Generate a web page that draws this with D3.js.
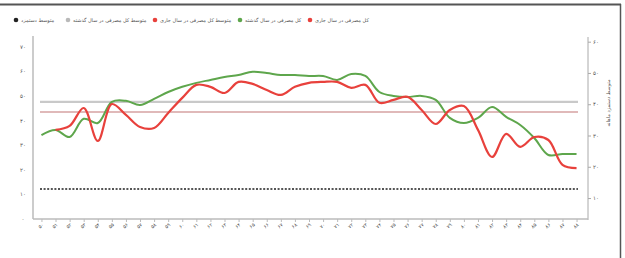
<!DOCTYPE html>
<html>
<head>
<meta charset="utf-8">
<script src="https://cdn.jsdelivr.net/npm/d3@7"></script>
<style>
  body { margin: 0; background: #fff; }
  text { font-family: "DejaVu Sans", sans-serif; fill: #555; }
</style>
</head>
<body>
<div id="chart"></div>
<script>
// years 1350..1388 (Persian digits)
const years = ["۵۰","۵۱","۵۲","۵۳","۵۴","۵۵","۵۶","۵۷","۵۸","۵۹","۶۰","۶۱","۶۲","۶۳","۶۴","۶۵","۶۶","۶۷","۶۸","۶۹",
  "۷۰","۷۱","۷۲","۷۳","۷۴","۷۵","۷۶","۷۷","۷۸","۷۹","۸۰","۸۱","۸۲","۸۳","۸۴","۸۵","۸۶","۸۷","۸۸"];

// total consumption, current year (red)
const currentYear = [null,36.2,37.8,45.1,31.7,46.7,42.3,37.4,37.0,43.1,49.2,54.5,53.7,51.2,55.7,54.9,52.4,50.4,53.7,55.3,
  55.7,55.7,53.3,54.5,47.2,48.4,49.6,44.3,38.6,44.3,45.9,36.2,25.2,34.6,29.3,33.3,32.1,22.0,20.7];

// total consumption, previous year (green)
const previousYear = [34.1,36.2,33.3,40.7,39.0,47.6,48.0,46.3,48.8,51.6,53.7,55.3,56.5,57.7,58.5,59.8,59.3,58.5,58.5,58.1,
  58.1,56.5,58.9,58.1,51.6,50.0,49.6,50.0,48.4,41.1,39.0,41.1,45.5,41.5,38.2,32.9,26.0,26.4,26.4];

const avgPrevious = 47.6;   // gray line
const avgCurrent = 43.5;    // pale red line
const avgWage = 12.2;       // dotted black line

const leftTicks = [0,10,20,30,40,50,60,70];
const leftTickLabels = ["۰","۱۰","۲۰","۳۰","۴۰","۵۰","۶۰","۷۰"];
const rightTicks = [10,20,30,40,50,60];
const rightTickLabels = ["۱۰","۲۰","۳۰","۴۰","۵۰","۶۰"];

const legendItems = ["متوسط دستمزد","متوسط کل مصرفی در سال گذشته","متوسط کل مصرفی در سال جاری","کل مصرفی در سال گذشته","کل مصرفی در سال جاری"];
const legendColors = ["#222","#b9b9b9","#e8413c","#5ea64c","#e8413c"];

const W = 625, H = 258;
const svg = d3.select("#chart").append("svg")
  .attr("width", W).attr("height", H);

// frame
svg.append("line").attr("x1", 0).attr("x2", 621).attr("y1", 4.5).attr("y2", 4.5)
  .attr("stroke", "#555").attr("stroke-width", 2);
svg.append("line").attr("x1", 620.5).attr("x2", 620.5).attr("y1", 4).attr("y2", H)
  .attr("stroke", "#555").attr("stroke-width", 1.5);

const x = d3.scalePoint().domain(years).range([33, 585]).padding(0.6);
const y = d3.scaleLinear().domain([0, 70]).range([219, 46.7]);
const yRight = d3.scaleLinear().domain([0, 60]).range([229.3, 41.7]);

// left axis
svg.append("line").attr("x1", 33).attr("x2", 33).attr("y1", 36).attr("y2", 219)
  .attr("stroke", "#bbb").attr("stroke-width", 1.5);
svg.append("g").selectAll("text").data(leftTicks).join("text")
  .attr("x", 23).attr("y", d => y(d) + 2)
  .attr("text-anchor", "middle").attr("font-size", 5.5)
  .text((d, i) => leftTickLabels[i]);

// right axis
const rAxis = svg.append("g").attr("transform", "translate(588,0)")
  .call(d3.axisRight(yRight).tickValues(rightTicks).tickSize(3).tickFormat((d, i) => rightTickLabels[i]));
rAxis.select(".domain").attr("d", "M0,37V220").attr("stroke", "#aaa");
rAxis.selectAll(".tick line").attr("stroke", "#aaa");
rAxis.selectAll(".tick text").attr("font-size", 5.5).attr("fill", "#666").attr("x", 5);
svg.append("text")
  .attr("transform", "translate(610,103) rotate(-90)")
  .attr("text-anchor", "middle").attr("font-size", 5)
  .text("متوسط دستمزد ماهانه");

// x axis
const xAxis = svg.append("g").attr("transform", "translate(0,219)")
  .call(d3.axisBottom(x).tickSize(3));
xAxis.select(".domain").attr("d", "M33,0H588").attr("stroke", "#bbb").attr("stroke-width", 1.5);
xAxis.selectAll(".tick line").attr("stroke", "#bbb");
xAxis.selectAll(".tick text")
  .attr("font-size", 5).attr("fill", "#777")
  .attr("y", 0).attr("dy", 0)
  .attr("transform", "translate(0,8) rotate(-40)")
  .attr("text-anchor", "middle");

// reference lines
const x0 = 40, x1 = 578;
svg.append("line").attr("x1", x0).attr("x2", x1).attr("y1", y(avgPrevious)).attr("y2", y(avgPrevious))
  .attr("stroke", "#c9c9c9").attr("stroke-width", 2.2);
svg.append("line").attr("x1", x0).attr("x2", x1).attr("y1", y(avgCurrent)).attr("y2", y(avgCurrent))
  .attr("stroke", "#d6a2a2").attr("stroke-width", 1.5);
svg.append("line").attr("x1", x0).attr("x2", x1).attr("y1", y(avgWage)).attr("y2", y(avgWage))
  .attr("stroke", "#555").attr("stroke-width", 2).attr("stroke-dasharray", "2,1.6");

// series
const line = d3.line()
  .defined(d => d.v != null)
  .x(d => x(d.k)).y(d => y(d.v))
  .curve(d3.curveCatmullRom.alpha(0.5));

svg.append("path")
  .attr("d", line(years.map((k, i) => ({ k, v: previousYear[i] }))))
  .attr("fill", "none").attr("stroke", "#5ea64c").attr("stroke-width", 2);
svg.append("path")
  .attr("d", line(years.map((k, i) => ({ k, v: currentYear[i] }))))
  .attr("fill", "none").attr("stroke", "#e8413c").attr("stroke-width", 2.2);

// legend
const legendX = [16, 68, 155, 240, 310];
const lg = svg.append("g");
lg.selectAll("circle").data(legendItems).join("circle")
  .attr("cx", (d, i) => legendX[i]).attr("cy", 20)
  .attr("r", 2.3).attr("fill", (d, i) => legendColors[i]);
lg.selectAll("text").data(legendItems).join("text")
  .attr("x", (d, i) => legendX[i] + 5).attr("y", 22)
  .attr("font-size", 5).attr("fill", "#444")
  .attr("text-anchor", "start")
  .text(d => d);
</script>
</body>
</html>
